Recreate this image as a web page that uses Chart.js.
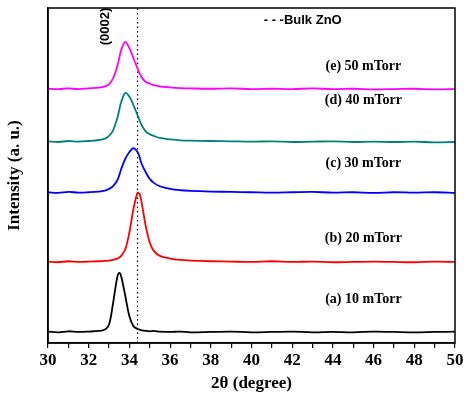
<!DOCTYPE html>
<html>
<head>
<meta charset="utf-8">
<script src="https://cdn.jsdelivr.net/npm/chart.js@4"></script>
<style>body{margin:0;background:#fff}</style>
</head>
<body>
<canvas id="myChart" width="474" height="414"></canvas>
<script>
// 2theta grid shared by all patterns
const twoTheta = [30,30.5,31,31.5,32,32.5,32.8,33,33.2,33.4,33.5,33.6,33.8,34,34.2,34.4,34.5,34.6,34.8,35,35.2,35.5,36,36.5,37,38,39,40,41,42,43,44,45,46,47,48,49,50]
// offset intensities (arbitrary units, 0-100 frame)
const a10 = [3.4,3.2,3.5,3.3,3.4,3.6,4.0,5.5,12,19.5,20.9,19.8,14,8,5,4.2,4.0,3.8,3.6,3.5,3.6,3.4,3.3,3.4,3.2,3.3,3.4,3.2,3.3,3.4,3.2,3.3,3.2,3.4,3.3,3.2,3.3,3.4]
const b20 = [24.3,24.1,24.4,24.2,24.3,24.4,24.5,24.6,24.8,25.2,25.5,26,28,33,40,44.8,44.5,42,35,30,27.5,26,25.2,24.8,24.6,24.4,24.3,24.2,24.4,24.2,24.3,24.1,24.2,24.3,24.2,24.1,24.3,24.2]
const c30 = [45,44.8,45.1,44.9,45,45.2,45.5,46,46.8,48.5,50,52,55,57,58.2,57,55.5,53.5,51,49,47.8,46.8,46,45.6,45.4,45.2,45.1,45,44.9,45,45.1,44.9,45,44.8,45,44.9,45,44.8]
const d40 = [60.2,60,60.3,60.1,60.3,60.6,61,61.8,63.5,67,69.5,72,74.6,73.5,71,68,66.5,65,63.2,62.3,61.8,61.2,60.8,60.5,60.4,60.3,60.2,60.1,60.2,60,60.1,60.2,60,60.1,60,60.1,59.9,60]
const e50 = [75.9,75.8,76,75.8,76,76.2,76.6,77.3,79,82.5,85,87.5,89.9,88,85,82,80.5,79.3,78,77.4,77,76.6,76.3,76.1,76,75.9,76,75.8,75.9,75.8,76,75.8,75.9,75.7,75.8,75.9,75.7,75.8]
const seriesLabels = ["(a) 10 mTorr","(b) 20 mTorr","(c) 30 mTorr","(d) 40 mTorr","(e) 50 mTorr"]
const labelY = [13.1,31.3,53.7,72.5,82.7]
const colors = ["#000000","#ff0000","#0000ff","#008080","#ff00ff"]
const bulkZnO = 34.4
const xTicks = [30,32,34,36,38,40,42,44,46,48,50]

const serif = "'Liberation Serif', 'DejaVu Serif', serif"
const sans = "'Liberation Sans', Arial, sans-serif"

function toXY(ys) { return twoTheta.map((x, i) => ({x: x, y: ys[i]})) }

const datasets = [a10, b20, c30, d40, e50].map((ys, i) => ({
    data: toXY(ys), borderColor: colors[i], borderWidth: 1.8,
    pointRadius: 0, tension: 0.35
}))
datasets.push({
    data: [{x: bulkZnO, y: 0}, {x: bulkZnO, y: 100}],
    borderColor: "#000", borderWidth: 1.2, borderDash: [1.5, 3], pointRadius: 0
})

const textPlugin = {
    id: "texts",
    afterDraw(chart) {
        const ctx = chart.ctx, xs = chart.scales.x, ys = chart.scales.y, ca = chart.chartArea
        ctx.save()
        ctx.strokeStyle = "#000"; ctx.lineWidth = 1.5
        ctx.strokeRect(ca.left, ca.top, ca.right - ca.left, ca.bottom - ca.top)
        ctx.fillStyle = "#000"
        ctx.font = "bold 14px " + serif
        ctx.textAlign = "center"; ctx.textBaseline = "middle"
        seriesLabels.forEach((t, i) => ctx.fillText(t, xs.getPixelForValue(45.5), ys.getPixelForValue(labelY[i])))
        // legend
        ctx.font = "bold 13px " + sans
        ctx.textAlign = "left"
        ctx.fillText("- - -Bulk ZnO", xs.getPixelForValue(40.6), ys.getPixelForValue(96.2))
        // (0002) label
        ctx.font = "bold 13px " + sans
        ctx.translate(xs.getPixelForValue(32.8), ys.getPixelForValue(94.5))
        ctx.rotate(-Math.PI / 2)
        ctx.textAlign = "center"
        ctx.fillText("(0002)", 0, 0)
        ctx.restore()
    }
}

new Chart("myChart", {
    type: "line",
    data: { datasets: datasets },
    options: {
        responsive: false,
        animation: false,
        layout: { padding: { top: 8, right: 19, left: 0, bottom: 20 } },
        plugins: { legend: { display: false }, tooltip: { enabled: false } },
        scales: {
            x: {
                type: "linear", min: 30, max: 50,
                afterBuildTicks: (s) => { s.ticks = []; for (let v = 30; v <= 50; v++) s.ticks.push({value: v}) },
                afterFit: (s) => { s.height = 51 },
                ticks: {
                    color: "#000", font: { family: serif, size: 17, weight: "bold" }, padding: 2,
                    autoSkip: false, maxRotation: 0,
                    callback: (v) => xTicks.includes(v) ? v : ""
                },
                grid: { drawOnChartArea: false, color: "#000", tickLength: 5, lineWidth: 1.2 },
                border: { color: "#000", width: 1.5 },
                title: { display: true, text: "2θ (degree)", color: "#000", font: { family: serif, size: 17, weight: "bold" }, padding: 0 }
            },
            y: {
                min: 0, max: 100,
                afterFit: (s) => { s.width = 48 },
                ticks: { display: false },
                grid: { display: false },
                border: { color: "#000", width: 1.5 },
                title: { display: true, text: "Intensity (a. u.)", color: "#000", font: { family: serif, size: 17, weight: "bold" } }
            }
        }
    },
    plugins: [textPlugin]
})
</script>
</body>
</html>
